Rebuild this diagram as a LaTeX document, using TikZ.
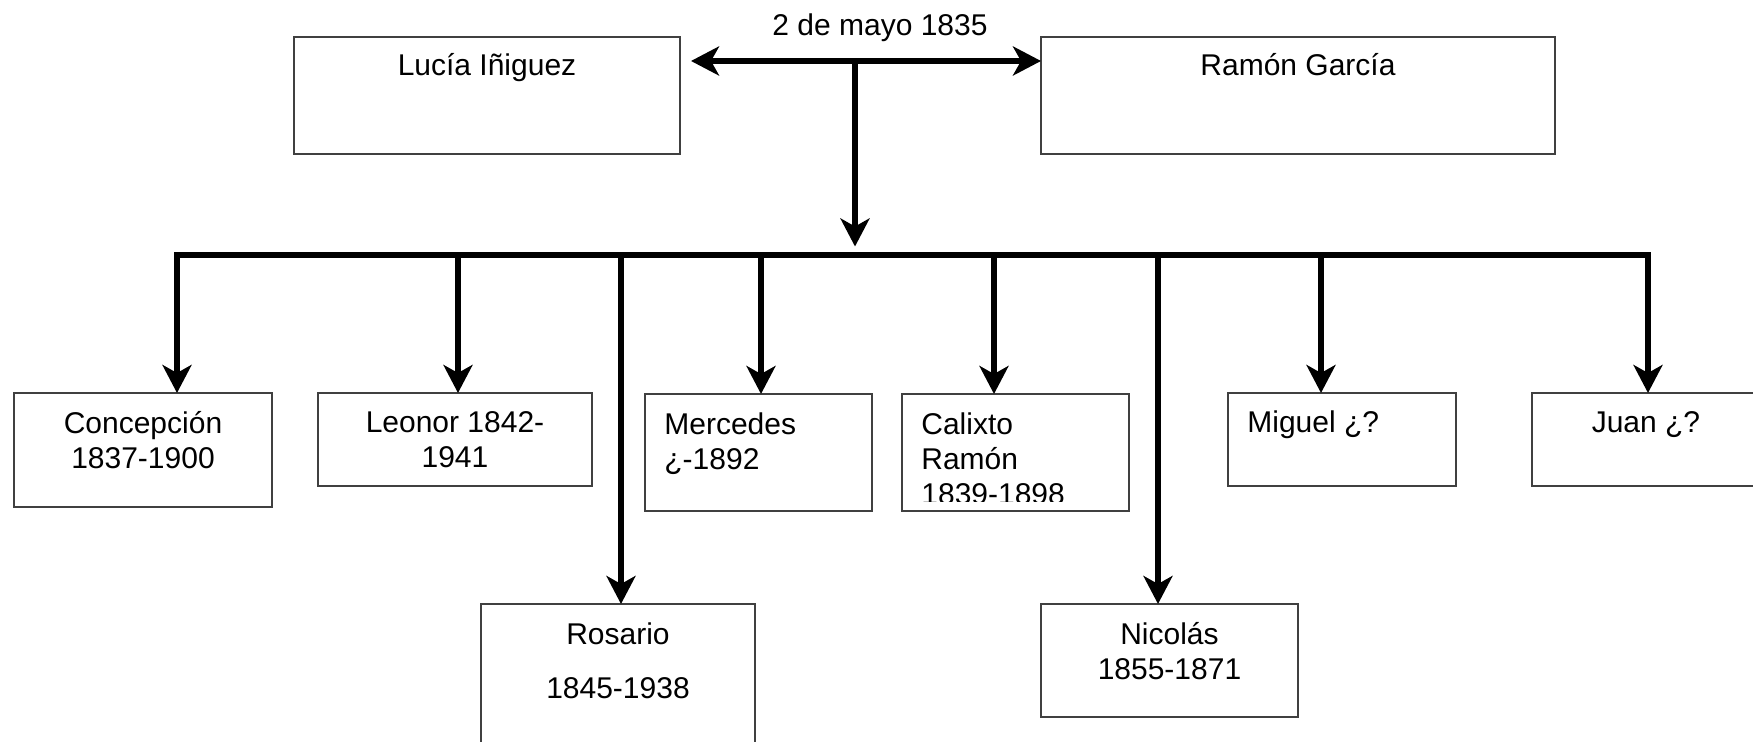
\documentclass[tikz,border=0pt]{standalone}
\usepackage{fontspec}
\setmainfont{Liberation Sans}
\usetikzlibrary{arrows.meta,positioning}

\begin{document}
\begin{tikzpicture}[x=0.5pt, y=-0.5pt,
    box/.style={draw=black!75, line width=0.75pt, inner sep=0pt, outer sep=0pt},
    nombre/.style={font=\fontsize{15}{17.5}\selectfont, inner sep=0pt, align=center,
      execute at begin node={\rule{0pt}{14pt}}},
    wire/.style={line width=2.75pt, line cap=rect},
    arr/.style={wire, -{Stealth[length=14pt, width=14.5pt, inset=4pt]}}]

    \useasboundingbox (0,0) rectangle (1753,742);
    \clip (0,0) rectangle (1753,742);

    % the parents
    \node[box, minimum width=193pt, minimum height=58.5pt] (lucia) at (487,95.5) {};
    \node[box, minimum width=257pt, minimum height=58.5pt] (ramon) at (1298,95.5) {};
    \node[nombre, below=5pt of lucia.north] (t-lucia) {Lucía Iñiguez};
    \node[nombre, below=5pt of ramon.north] (t-ramon) {Ramón García};

    % the wedding
    \coordinate (boda) at (855,61);
    \coordinate (hub) at (855,255);
    \node[nombre, anchor=base] (fecha) at (880,36) {2 de mayo 1835};
    \draw[wire, {Stealth[length=14pt, width=14.5pt, inset=4pt]}-{Stealth[length=14pt, width=14.5pt, inset=4pt]}, shorten <=5.5pt]
        (lucia.east |- boda) -- (ramon.west |- boda);
    \draw[arr, shorten >=4.25pt] (boda) -- (hub);

    % the children
    \foreach \x [count=\i] in {177,458,621,761,994,1158,1321,1648}
        \coordinate (b\i) at (\x,255);
    \draw[wire] (b1) -- (b8);

    \node[box, minimum width=129pt, minimum height=57pt] (concep) at (143,450) {};
    \node[box, minimum width=137pt, minimum height=46.5pt] (leonor) at (455,439.5) {};
    \node[box, minimum width=137pt, minimum height=78pt] (rosario) at (618,682) {};
    \node[box, minimum width=113.5pt, minimum height=58.5pt] (merced) at (758.5,452.5) {};
    \node[box, minimum width=113.5pt, minimum height=58.5pt] (calixto) at (1015.5,452.5) {};
    \node[box, minimum width=128.5pt, minimum height=56.5pt] (nicolas) at (1169.5,660.5) {};
    \node[box, minimum width=114pt, minimum height=46.5pt] (miguel) at (1342,439.5) {};
    \node[box, minimum width=114pt, minimum height=46.5pt] (juan) at (1646,439.5) {};

    \foreach \i/\n in {1/concep,2/leonor,3/rosario,4/merced,5/calixto,6/nicolas,7/miguel,8/juan}
        \draw[arr] (b\i) -- (b\i |- \n.north);

    % names and dates
    \node[nombre, below=9pt of concep.north] (t-concep) {Concepción\\1837-1900};
    \node[nombre, below=9pt of leonor.north] (t-leonor) {Leonor 1842-\\1941};
    \node[nombre, below=9pt of rosario.north] (t-rosario) {Rosario\\[9.5pt]1845-1938};
    \node[nombre, align=left, below right=9pt and 9.5pt of merced.north west] (t-merced) {Mercedes\\¿-1892};
    \begin{scope}
        \clip (calixto.north west) rectangle ([yshift=4.5pt]calixto.south east);
        \node[nombre, align=left, below right=9pt and 9.5pt of calixto.north west] (t-calixto) {Calixto\\Ramón\\1839-1898};
    \end{scope}
    \node[nombre, below=9pt of nicolas.north] (t-nicolas) {Nicolás\\1855-1871};
    \node[nombre, align=left, below right=5.5pt and 9.5pt of miguel.north west] (t-miguel) {Miguel ¿?};
    \node[nombre, below=5.5pt of juan.north] (t-juan) {Juan ¿?};
\end{tikzpicture}
\end{document}
